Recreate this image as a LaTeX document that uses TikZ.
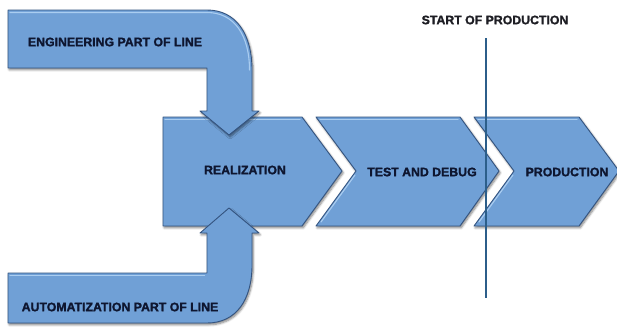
\documentclass[tikz,border=0pt]{standalone}
\usepackage{fontspec}
\setmainfont{Liberation Sans}[BoldFeatures={FakeBold=1.6}]
\usetikzlibrary{shadows.blur}
\definecolor{stepfill}{RGB}{112,160,214}
\definecolor{stepedge}{RGB}{52,84,128}
\definecolor{stepglow}{RGB}{170,205,240}
\definecolor{steptext}{RGB}{14,22,48}
\definecolor{soptext}{RGB}{30,30,36}
\definecolor{sopline}{RGB}{44,94,138}
\tikzset{
  stage/.style={fill=stepfill, draw=stepedge, line width=0.9pt, line join=round,
    blur shadow={shadow xshift=1.2pt, shadow yshift=-1.8pt, shadow blur steps=6, shadow opacity=50}},
  glow/.style={draw=stepglow, line width=1.1pt, line cap=round},
  label/.style={font=\fontsize{12.3}{14}\selectfont\bfseries, text=steptext, inner sep=0pt},
}
\begin{document}
\begin{tikzpicture}[x=1pt, y=-1pt]
\useasboundingbox (0,0) rectangle (617,332);
% process chevrons
\path[stage] (163,117) -- (302,117) -- (342,171) -- (302,226) -- (163,226) -- cycle;
\draw[glow] (165,119.5) -- (300,119.5);
\path[stage] (316,117) -- (460,117) -- (499,171) -- (460,226) -- (316,226) -- (356,171) -- cycle;
\draw[glow] (320,119.5) -- (458,119.5);
\draw[glow] (355,175) -- (321,222);
\path[stage] (474,117) -- (579,117) -- (619,171) -- (579,226) -- (474,226) -- (514,171) -- cycle;
\draw[glow] (478,119.5) -- (577,119.5);
\draw[glow] (513,175) -- (479,222);
% feeding bent arrows
\path[stage] (8,10) -- (207,10) .. controls (236,10) and (252,34) .. (252,70) -- (252,111)
  -- (259,111) -- (229,135) -- (200,111) -- (207,111) -- (207,68) -- (8,68) -- cycle;
\draw[glow] (10,12.5) -- (207,12.5) .. controls (234,12.5) and (249.5,35) .. (249.5,70);
\path[stage] (8,323) -- (207,323) .. controls (236,323) and (252,300) .. (252,265) -- (252,233)
  -- (259,233) -- (229,208) -- (200,233) -- (207,233) -- (207,273) -- (8,273) -- cycle;
\draw[glow] (10,275.5) -- (204.5,275.5);
% labels
\node[label] (eng) at (115,42) {ENGINEERING PART OF LINE};
\node[label] (aut) at (120,307) {AUTOMATIZATION PART OF LINE};
\node[label] (real) at (245,170) {REALIZATION};
\node[label] (test) at (422,172) {TEST AND DEBUG};
\node[label] (prod) at (567,172) {PRODUCTION};
% start of production marker
\node[label, text=soptext] (sop) at (495,20) {START OF PRODUCTION};
\coordinate (soptop) at (486,38);
\coordinate (sopbot) at (486,298);
\draw[sopline, line width=2.6pt] (soptop) -- (sopbot);
\end{tikzpicture}
\end{document}
